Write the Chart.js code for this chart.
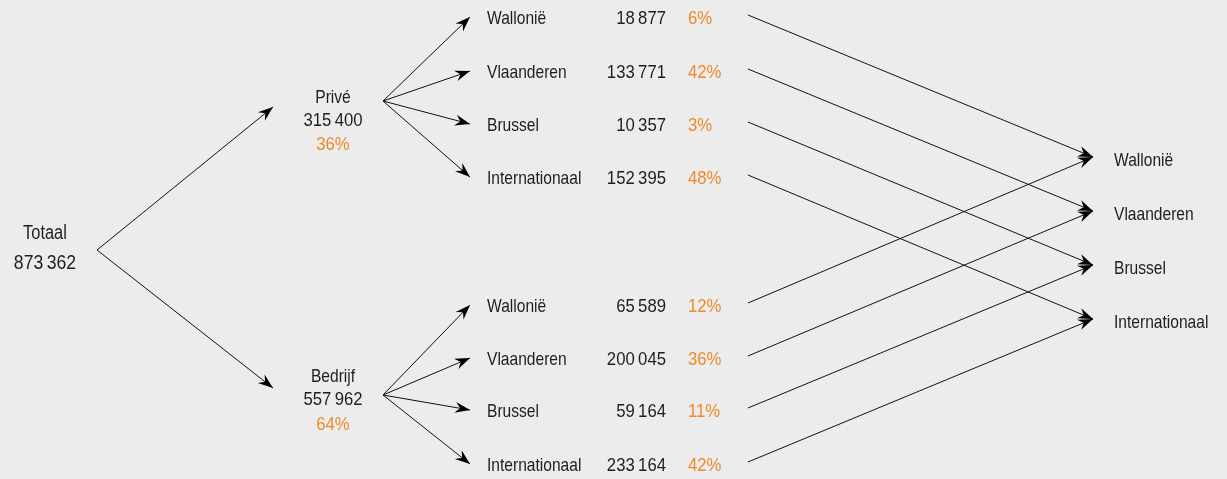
<!DOCTYPE html>
<html lang="nl">
<head>
<meta charset="UTF-8">
<title>Totaal naar regio</title>
<script src="https://cdn.jsdelivr.net/npm/chart.js"></script>
<style>
    html, body { margin: 0; padding: 0; background: #ececec; }
    #wrap { width: 1227px; height: 479px; position: relative; }
</style>
</head>
<body>
<div id="wrap"><canvas id="tree"></canvas></div>
<script>
    // data
    const totalLabel = "Totaal";
    const totalValue = 873362;
    const segments = ["Privé", "Bedrijf"];
    const segmentValues = [315400, 557962];
    const segmentShares = [36, 64];
    const regions = ["Wallonië", "Vlaanderen", "Brussel", "Internationaal"];
    const priveValues = [18877, 133771, 10357, 152395];
    const priveShares = [6, 42, 3, 48];
    const bedrijfValues = [65589, 200045, 59164, 233164];
    const bedrijfShares = [12, 36, 11, 42];

    // layout (in pixel-like axis units)
    const rootOrigin = { x: 97, y: 250 };
    const segTips = [{ x: 273, y: 107 }, { x: 273, y: 388 }];
    const segOrigins = [{ x: 383, y: 101 }, { x: 383, y: 395 }];
    const rowY = [[18, 72, 125, 178], [306, 359, 411, 465]];
    const rowTipX = 470;
    const linkStartX = 748;
    const endTipX = 1093;
    const endY = [157, 211, 265, 319];

    const ORANGE = "#ee8a2a";
    const INK = "#1e1e1e";
    const FONT = "'Liberation Sans', Arial, sans-serif";
    const SQUEEZE_WORD = 0.82;
    const SQUEEZE_NUM = 0.88;

    // thin space as thousands separator
    const fmt = n => String(n).replace(/\B(?=(\d{3})+(?!\d))/g, "\u2009");

    const edges = [];
    segTips.forEach(t => edges.push([rootOrigin, t]));
    segOrigins.forEach((o, s) => {
        rowY[s].forEach(y => edges.push([o, { x: rowTipX, y: y - 1 }]));
    });
    rowY.forEach(rows => {
        rows.forEach((y, r) => edges.push([{ x: linkStartX, y: y - 3 }, { x: endTipX, y: endY[r] }]));
    });

    const datasets = edges.map(e => ({
        data: [e[0], e[1]],
        showLine: true,
        borderColor: "#111",
        borderWidth: 1,
        pointRadius: 0,
        pointHoverRadius: 0
    }));

    const arrowHeads = {
        id: "arrowHeads",
        afterDatasetsDraw(chart) {
            const ctx = chart.ctx;
            ctx.save();
            ctx.fillStyle = "#000";
            chart.data.datasets.forEach((ds, i) => {
                const pts = chart.getDatasetMeta(i).data;
                const a = pts[0], b = pts[1];
                const ang = Math.atan2(b.y - a.y, b.x - a.x);
                const len = 15, half = 5.5, notch = 10;
                ctx.save();
                ctx.translate(b.x, b.y);
                ctx.rotate(ang);
                ctx.beginPath();
                ctx.moveTo(0, 0);
                ctx.lineTo(-len, -half);
                ctx.lineTo(-notch, 0);
                ctx.lineTo(-len, half);
                ctx.closePath();
                ctx.fill();
                ctx.restore();
            });
            ctx.restore();
        }
    };

    const labels = {
        id: "labels",
        afterDraw(chart) {
            const ctx = chart.ctx;
            const X = v => chart.scales.x.getPixelForValue(v);
            const Y = v => chart.scales.y.getPixelForValue(v);
            const txt = (s, x, y, align, color, squeeze, size) => {
                ctx.save();
                ctx.font = (size || 19) + "px " + FONT;
                ctx.fillStyle = color || INK;
                ctx.textAlign = align;
                ctx.translate(X(x), Y(y));
                ctx.scale(squeeze || SQUEEZE_WORD, 1);
                ctx.fillText(s, 0, 0);
                ctx.restore();
            };
            ctx.save();
            ctx.textBaseline = "middle";

            txt(totalLabel, 45, 233, "center", INK, SQUEEZE_WORD, 20);
            txt(fmt(totalValue), 45, 263, "center", INK, SQUEEZE_NUM, 20);

            const segY = [[98, 121, 145], [377, 400, 425]];
            segments.forEach((name, s) => {
                txt(name, 333, segY[s][0], "center");
                txt(fmt(segmentValues[s]), 333, segY[s][1], "center", INK, SQUEEZE_NUM);
                txt(segmentShares[s] + "%", 333, segY[s][2], "center", ORANGE, SQUEEZE_NUM);
            });

            const vals = [priveValues, bedrijfValues];
            const shares = [priveShares, bedrijfShares];
            rowY.forEach((rows, s) => {
                rows.forEach((y, r) => {
                    txt(regions[r], 487, y + 1, "left");
                    txt(fmt(vals[s][r]), 666, y + 1, "right", INK, SQUEEZE_NUM);
                    txt(shares[s][r] + "%", 688, y + 1, "left", ORANGE, SQUEEZE_NUM);
                });
            });

            regions.forEach((name, r) => txt(name, 1114, endY[r] + 4, "left"));
            ctx.restore();
        }
    };

    new Chart(document.getElementById("tree"), {
        type: "scatter",
        data: { datasets: datasets },
        options: {
            responsive: true,
            maintainAspectRatio: false,
            animation: false,
            events: [],
            layout: { padding: 0 },
            plugins: { legend: { display: false }, tooltip: { enabled: false } },
            scales: {
                x: { type: "linear", min: 0, max: 1227, display: false },
                y: { type: "linear", min: 0, max: 479, reverse: true, display: false }
            }
        },
        plugins: [arrowHeads, labels]
    });
</script>
</body>
</html>
